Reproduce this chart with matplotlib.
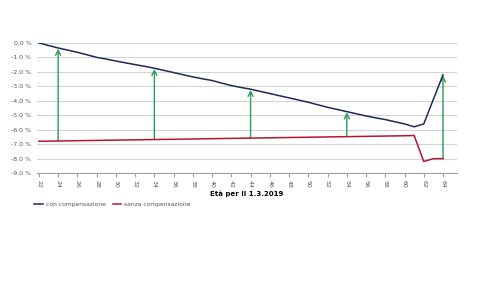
import matplotlib.pyplot as plt

ages = list(range(22, 65))
# con compensazione (percent), read per year
con_comp = [0.0, -0.18, -0.35, -0.5, -0.65, -0.82, -1.0, -1.12, -1.25, -1.38, -1.5,
            -1.62, -1.75, -1.9, -2.05, -2.2, -2.35, -2.48, -2.6, -2.78, -2.95,
            -3.08, -3.2, -3.35, -3.5, -3.65, -3.8, -3.95, -4.1, -4.28, -4.45,
            -4.6, -4.75, -4.9, -5.05, -5.18, -5.3, -5.45, -5.6, -5.8, -5.6,
            -3.9, -2.2]
senza_comp = [-6.8, -6.79, -6.78, -6.77, -6.76, -6.75, -6.74, -6.73, -6.72, -6.71,
              -6.7, -6.69, -6.68, -6.67, -6.66, -6.65, -6.64, -6.63, -6.62, -6.61,
              -6.6, -6.59, -6.58, -6.57, -6.56, -6.55, -6.54, -6.53, -6.52, -6.51,
              -6.5, -6.49, -6.48, -6.47, -6.46, -6.45, -6.44, -6.43, -6.42, -6.4,
              -8.2, -8.0, -8.0]
arrow_ages = [24, 34, 44, 54, 64]
yticks = [0, -1, -2, -3, -4, -5, -6, -7, -8, -9]
xticks = list(range(22, 65, 2))

fig = plt.figure(figsize=(4.8, 3.0), dpi=100)
ax = fig.add_axes([0.077, 0.423, 0.875, 0.434])

ax.plot(ages, con_comp, color='#1c2a5c', lw=1.1, label='con compensazione', zorder=3)
ax.plot(ages, senza_comp, color='#b3172e', lw=1.1, label='senza compensazione', zorder=3)

for a in arrow_ages:
    i = ages.index(a)
    ax.annotate('', xy=(a, con_comp[i] - 0.05), xytext=(a, senza_comp[i]),
                arrowprops=dict(arrowstyle='->', color='#2e9a5c', lw=1.0,
                                mutation_scale=9, shrinkA=0, shrinkB=0), zorder=2)

ax.set_xlim(21.8, 65.45)
ax.set_ylim(-9, 0)
ax.set_yticks(yticks)
ax.set_yticklabels([f'{v:.1f} %' for v in yticks])
ax.set_xticks(xticks)
ax.set_xticklabels([str(x) for x in xticks], rotation=-90)
ax.grid(axis='y', color='#d4d4d4', lw=0.8)
ax.set_axisbelow(True)
for s in ['top', 'right', 'left']:
    ax.spines[s].set_visible(False)
ax.spines['bottom'].set_color('#a0a0a0')
ax.spines['bottom'].set_linewidth(0.8)
ax.tick_params(axis='y', length=0, labelsize=4.5, labelcolor='#555555', pad=4)
ax.tick_params(axis='x', length=3, color='#a0a0a0', labelsize=4.5,
               labelcolor='#555555', pad=2)
ax.set_xlabel('Età per il 1.3.2019', fontsize=5, fontweight='bold', labelpad=2)

fig.legend(loc='center left', bbox_to_anchor=(0.065, 0.318), ncol=2, frameon=False,
           fontsize=4.3, handlelength=1.4, handletextpad=0.5, columnspacing=1.2,
           borderpad=0, labelcolor='#555555')

fig.savefig('out.png', dpi=100)
